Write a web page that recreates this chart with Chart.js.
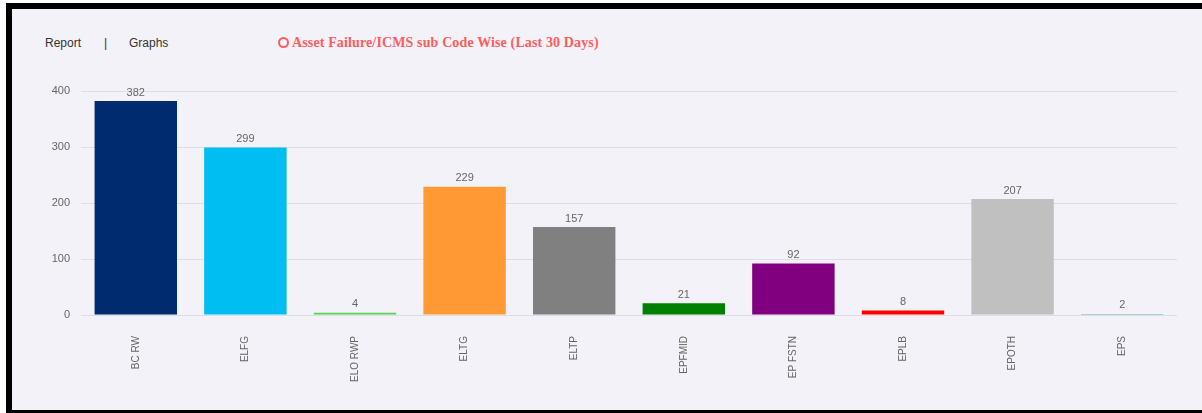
<!DOCTYPE html>
<html>
<head>
<meta charset="utf-8">
<script src="https://cdn.jsdelivr.net/npm/chart.js@4/dist/chart.umd.min.js"></script>
<style>
  body { margin: 0; background: #fff; width: 1202px; height: 413px; overflow: hidden; }
  .frame {
    position: absolute; left: 6px; top: 3px; width: 1300px; height: 401px;
    background: #f3f2f8;
    border-left: 6px solid #000; border-top: 6px solid #000; border-bottom: 6px solid #000;
  }
  .nav { position: absolute; top: 36px; font: 12px Arial, "Liberation Sans", sans-serif; color: #333; }
  .title { position: absolute; left: 278px; top: 35px; font: bold 14px "Liberation Serif", serif; letter-spacing: 0.13px; color: #ff5c5c; }
  .title .ring { display: inline-block; width: 7px; height: 7px; border: 2px solid #ff5c5c; border-radius: 50%; margin-right: 3px; vertical-align: -1px; }
  .wrap { position: absolute; left: 12px; top: 60px; width: 1178px; height: 340px; }
</style>
</head>
<body>
<div class="frame"></div>
<div class="nav" style="left:45px">Report</div>
<div class="nav" style="left:104px">|</div>
<div class="nav" style="left:129px">Graphs</div>
<div class="title"><span class="ring"></span>Asset Failure/ICMS sub Code Wise (Last 30 Days)</div>
<div class="wrap"><canvas id="chart"></canvas></div>
<script>
// sub codes and counts for last 30 days
const codes = ["BC RW", "ELFG", "ELO RWP", "ELTG", "ELTP", "EPFMID", "EP FSTN", "EPLB", "EPOTH", "EPS"];
const counts = [382, 299, 4, 229, 157, 21, 92, 8, 207, 2];
const barColors = ["#002b6f", "#00bdf2", "#55d155", "#ff9933", "#808080", "#008000", "#800080", "#ff0000", "#c0c0c0", "#5fb6b8"];

// numbers above bars
const valueLabels = {
    id: "valueLabels",
    afterDatasetsDraw(chart) {
        const ctx = chart.ctx;
        ctx.save();
        ctx.font = "11px Arial, 'Liberation Sans', sans-serif";
        ctx.fillStyle = "#666";
        ctx.textAlign = "center";
        ctx.textBaseline = "bottom";
        chart.getDatasetMeta(0).data.forEach((bar, i) => {
            ctx.fillText(counts[i], bar.x, bar.y - 3);
        });
        ctx.restore();
    },
};

new Chart(document.getElementById("chart"), {
    type: "bar",
    plugins: [valueLabels],
    data: {
        labels: codes,
        datasets: [{
            data: counts,
            backgroundColor: barColors,
            categoryPercentage: 0.8,
            barPercentage: 0.94,
        }],
    },
    options: {
        responsive: true,
        maintainAspectRatio: false,
        animation: false,
        layout: { padding: { top: 31, right: 13, left: 0, bottom: 0 } },
        plugins: { legend: { display: false }, tooltip: { enabled: false } },
        scales: {
            x: {
                grid: { display: false },
                border: { display: false },
                ticks: {
                    color: "#666",
                    font: { size: 10, family: "Arial, 'Liberation Sans', sans-serif" },
                    minRotation: 90,
                    maxRotation: 90,
                    padding: 13,
                },
                afterFit: (s) => { s.height = 85; },
            },
            y: {
                min: 0,
                max: 400,
                grid: { color: "#dedde3", drawTicks: false },
                border: { display: false },
                ticks: {
                    stepSize: 100,
                    color: "#666",
                    font: { size: 11, family: "Arial, 'Liberation Sans', sans-serif" },
                    padding: 11,
                },
                afterFit: (s) => { s.width = 69; },
            },
        },
    },
});
</script>
</body>
</html>
